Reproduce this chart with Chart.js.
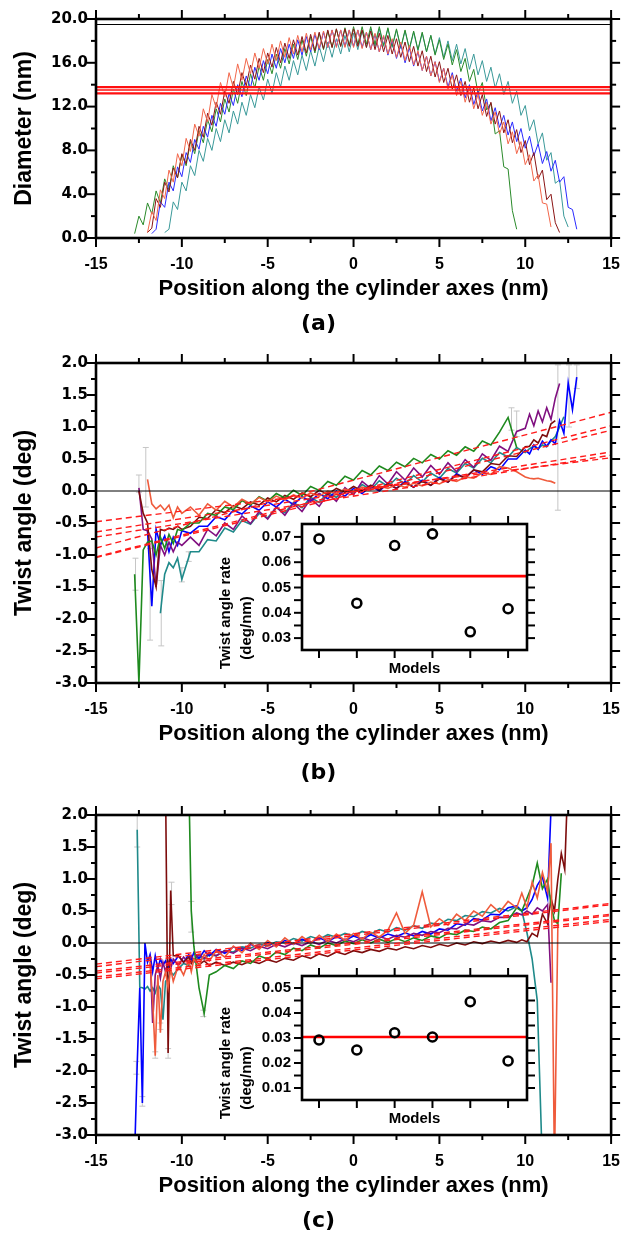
<!DOCTYPE html>
<html lang="en">
<head>
  <meta charset="UTF-8" />
  <title>Diameter and twist angle along the cylinder axes</title>
  <script src="https://cdn.jsdelivr.net/npm/chart.js"></script>
  <style>
    body { margin: 0; background: #fff; }
    .page { position: relative; width: 637px; height: 1234px; overflow: hidden; background: #fff; }
    .box { position: absolute; }
    .panel-label {
      position: absolute; left: 0; width: 637px; text-align: center;
      font: bold 22px "DejaVu Sans", sans-serif; line-height: 26px; color: #000;
    }
  </style>
</head>
<body>
<div class="page">
  <div class="box" style="left:0;top:0;width:637px;height:345px"><canvas id="chartA"></canvas></div>
  <div class="panel-label" style="top:310px">(a)</div>

  <div class="box" style="left:0;top:345px;width:637px;height:445px"><canvas id="chartB"></canvas></div>
  <div class="box" style="left:200px;top:500px;width:340px;height:180px"><canvas id="insetB"></canvas></div>
  <div class="panel-label" style="top:759px">(b)</div>

  <div class="box" style="left:0;top:790px;width:637px;height:444px"><canvas id="chartC"></canvas></div>
  <div class="box" style="left:200px;top:952px;width:340px;height:178px"><canvas id="insetC"></canvas></div>
  <div class="panel-label" style="top:1207px">(c)</div>
</div>

<script>
  // ---- (a) diameter, sampled every 0.25 nm ----
  const posA = [-13,-12.75,-12.5,-12.25,-12,-11.75,-11.5,-11.25,-11,-10.75,-10.5,-10.25,-10,-9.75,-9.5,-9.25,-9,-8.75,-8.5,-8.25,-8,-7.75,-7.5,-7.25,-7,-6.75,-6.5,-6.25,-6,-5.75,-5.5,-5.25,-5,-4.75,-4.5,-4.25,-4,-3.75,-3.5,-3.25,-3,-2.75,-2.5,-2.25,-2,-1.75,-1.5,-1.25,-1,-0.75,-0.5,-0.25,0,0.25,0.5,0.75,1,1.25,1.5,1.75,2,2.25,2.5,2.75,3,3.25,3.5,3.75,4,4.25,4.5,4.75,5,5.25,5.5,5.75,6,6.25,6.5,6.75,7,7.25,7.5,7.75,8,8.25,8.5,8.75,9,9.25,9.5,9.75,10,10.25,10.5,10.75,11,11.25,11.5,11.75,12,12.25,12.5,12.75,13];
  const diaGreen  = [null,0.4,2.0,1.2,3.2,2.2,4.3,3.2,5.4,4.4,6.6,5.5,7.6,6.6,8.8,7.7,9.8,8.7,10.8,9.7,11.8,10.6,12.7,11.5,13.6,12.3,14.3,13.0,15.0,13.7,15.7,14.4,16.3,15.0,16.8,15.5,17.3,15.9,17.7,16.3,18.1,16.6,18.4,16.9,18.7,17.2,18.9,17.4,19.1,17.5,19.2,17.6,19.3,17.7,19.3,17.7,19.3,17.7,19.3,17.6,19.2,17.5,19.1,17.4,19.0,17.3,18.9,17.2,18.8,17.0,18.5,16.7,18.1,16.3,17.7,15.8,17.2,15.2,16.4,14.3,15.4,13.2,14.2,11.7,12.3,9.5,9.8,6.5,6.3,2.5,0.8,null,null,null,null,null,null,null,null,null,null,null,null,null,null];
  const diaBlue   = [null,null,null,null,null,0.4,0.8,3.3,2.8,5.1,4.3,6.5,5.6,7.8,6.9,9.0,8.1,10.2,9.2,11.2,10.2,12.3,11.3,13.2,12.1,14.0,12.9,14.8,13.7,15.6,14.4,16.2,15.0,16.8,15.5,17.3,16.0,17.7,16.4,18.1,16.7,18.4,17.0,18.6,17.2,18.8,17.4,19.0,17.5,19.0,17.5,19.0,17.5,19.0,17.4,18.8,17.2,18.6,17.0,18.4,16.7,18.1,16.4,17.7,16.0,17.4,15.7,17.0,15.3,16.6,14.8,16.1,14.3,15.5,13.8,15.1,13.4,14.6,12.8,14.0,12.2,13.4,11.6,12.7,10.7,11.9,10.1,11.2,9.4,10.6,8.8,10.0,8.2,9.3,7.5,8.6,6.8,7.9,6.1,7.1,5.1,5.6,2.8,2.6,0.8];
  const diaTeal   = [null,null,null,null,null,null,null,null,0.5,0.8,3.3,2.6,5.1,4.3,6.6,5.7,8.0,7.0,9.1,8.0,10.0,8.8,10.8,9.6,11.6,10.4,12.4,11.2,13.1,11.9,13.8,12.6,14.5,13.2,15.1,13.8,15.7,14.4,16.2,14.9,16.7,15.3,17.1,15.7,17.5,16.1,17.9,16.5,18.2,16.8,18.5,17.0,18.7,17.2,18.9,17.4,19.1,17.5,19.1,17.5,19.1,17.4,19.0,17.3,18.9,17.2,18.8,17.1,18.7,17.0,18.5,16.8,18.3,16.5,18.0,16.2,17.7,15.9,17.3,15.4,16.8,14.9,16.2,14.3,15.6,13.7,15.0,13.1,14.3,12.3,13.4,11.2,12.1,9.8,10.8,8.6,9.6,7.1,7.8,5.0,5.3,2.0,1.0,null,null];
  const diaTomato = [null,null,null,null,0.5,2.4,1.6,4.4,3.6,6.2,5.1,7.7,6.6,9.1,7.9,10.4,9.3,11.8,10.6,13.1,11.9,14.2,12.9,15.1,13.7,15.9,14.4,16.4,15.0,16.9,15.5,17.3,15.9,17.7,16.2,18.0,16.5,18.3,16.8,18.5,17.0,18.7,17.2,18.8,17.3,18.9,17.4,19.0,17.4,19.0,17.4,19.0,17.4,19.0,17.3,18.8,17.2,18.7,17.0,18.5,16.8,18.2,16.5,17.9,16.2,17.6,15.8,17.1,15.3,16.6,14.8,16.1,14.2,15.5,13.6,14.9,13.0,14.3,12.4,13.7,11.8,13.1,11.2,12.4,10.4,11.5,9.5,10.6,8.6,9.7,7.7,8.8,6.7,7.6,5.2,5.8,3.2,3.1,1.0,null,null,null,null,null,null];
  const diaMaroon = [null,null,null,null,0.5,0.9,3.6,2.8,5.1,4.2,6.4,5.5,7.7,6.8,9.0,8.0,10.2,9.2,11.4,10.3,12.4,11.3,13.4,12.3,14.3,13.1,15.1,13.9,15.8,14.5,16.4,15.1,16.9,15.6,17.4,16.0,17.8,16.4,18.1,16.7,18.4,16.9,18.6,17.1,18.8,17.3,19.0,17.4,19.1,17.5,19.1,17.5,19.1,17.5,19.0,17.4,18.9,17.2,18.7,17.0,18.5,16.8,18.2,16.5,17.9,16.1,17.5,15.7,17.1,15.2,16.6,14.7,16.1,14.2,15.5,13.6,14.9,13.0,14.3,12.4,13.7,11.8,13.1,11.1,12.4,10.4,11.6,9.6,10.8,8.7,9.9,7.8,8.9,6.7,7.8,5.4,6.2,3.5,4.0,1.4,0.5,null,null,null,null];
  const diaRedLevels = [13.82, 13.75, 13.52, 13.24, 13.17];
  const diaBlackLevel = 19.5;

  // ---- (b) twist angle ----
  const posB = [-12.75,-12.5,-12.25,-12,-11.75,-11.5,-11.25,-11,-10.75,-10.5,-10.25,-10,-9.5,-9,-8.5,-8,-7.5,-7,-6.5,-6,-5.5,-5,-4.5,-4,-3.5,-3,-2.5,-2,-1.5,-1,-0.5,0,0.5,1,1.5,2,2.5,3,3.5,4,4.5,5,5.5,6,6.5,7,7.5,8,8.5,9,9.5,10,10.25,10.5,10.75,11,11.25,11.5,11.75,12,12.25,12.5,12.75,13];
  const twBGreen  = [-1.3,-3.0,-0.92,-0.8,-0.78,-1.0,-0.72,-0.9,-0.68,-0.82,-0.6,-0.62,-0.5,-0.5,-0.35,-0.38,-0.25,-0.29,-0.15,-0.22,-0.09,-0.16,-0.04,-0.11,0.01,-0.07,0.07,0.01,0.15,0.09,0.23,0.17,0.32,0.25,0.39,0.32,0.45,0.38,0.51,0.44,0.57,0.5,0.63,0.56,0.69,0.62,0.78,0.72,0.92,1.15,0.68,null,null,null,null,null,null,null,null,null,null,null,null,null];
  const twBPurple = [null,0.05,-0.6,-0.62,-0.75,-1.5,-0.85,-1.0,-0.8,-0.95,-0.8,-0.85,-0.72,-0.85,-0.6,-0.7,-0.5,-0.6,-0.39,-0.51,-0.32,-0.44,-0.25,-0.38,-0.19,-0.32,-0.12,-0.24,-0.04,-0.16,0.05,-0.06,0.15,0.04,0.24,0.11,0.3,0.17,0.36,0.22,0.4,0.26,0.44,0.3,0.49,0.37,0.58,0.48,0.7,0.62,0.93,0.98,1.2,1.02,1.25,1.08,1.3,1.12,1.45,1.68,null,null,null,null];
  const twBBlue   = [null,null,null,-0.62,-1.8,-0.6,-0.85,-0.7,-0.95,-0.72,-0.85,-0.62,-0.66,-0.55,-0.55,-0.4,-0.45,-0.3,-0.36,-0.23,-0.3,-0.17,-0.25,-0.13,-0.21,-0.09,-0.16,-0.04,-0.12,0.0,-0.08,0.04,-0.04,0.08,0.0,0.12,0.04,0.15,0.06,0.17,0.09,0.21,0.14,0.27,0.2,0.33,0.26,0.38,0.33,0.5,0.5,0.64,0.58,0.72,0.65,0.78,0.7,0.8,0.74,1.1,0.9,1.69,1.27,1.78];
  const twBTeal   = [null,null,null,null,null,null,-1.91,-1.3,-1.12,-1.2,-1.05,-1.38,-0.95,-0.95,-0.76,-0.78,-0.58,-0.64,-0.46,-0.52,-0.35,-0.42,-0.26,-0.34,-0.18,-0.26,-0.1,-0.18,-0.02,-0.1,0.04,-0.04,0.1,0.02,0.16,0.07,0.2,0.11,0.24,0.14,0.28,0.2,0.35,0.28,0.43,0.36,0.51,0.44,0.6,0.53,0.68,0.6,0.66,0.7,0.66,0.72,0.69,0.78,0.85,1.0,1.16,null,null,null];
  const twBMaroon = [null,0.0,-0.35,-0.5,-1.23,-1.5,-0.6,-0.62,-0.58,-0.6,-0.55,-0.6,-0.55,-0.41,-0.43,-0.29,-0.34,-0.23,-0.28,-0.17,-0.22,-0.11,-0.17,-0.07,-0.13,-0.03,-0.09,0.01,-0.05,0.04,-0.02,0.07,0.0,0.09,0.02,0.11,0.04,0.13,0.06,0.15,0.09,0.19,0.14,0.25,0.21,0.33,0.3,0.43,0.41,0.55,0.54,0.69,0.7,0.8,0.75,0.88,0.85,1.05,1.1,null,null,null,null,null];
  const twBTomato = [null,null,null,0.18,-0.2,-0.28,-0.22,-0.3,-0.22,-0.42,-0.25,-0.35,-0.25,-0.38,-0.2,-0.3,-0.16,-0.25,-0.13,-0.2,-0.1,-0.17,-0.08,-0.14,-0.06,-0.11,-0.03,-0.08,0.0,-0.04,0.03,-0.01,0.06,0.02,0.08,0.04,0.1,0.06,0.12,0.08,0.14,0.11,0.18,0.15,0.22,0.2,0.28,0.26,0.38,0.36,0.3,0.22,0.2,0.19,0.2,0.18,0.16,0.15,0.12,null,null,null,null,null];
  const fitX = [-15, 15];
  const fitBLeft  = [-0.89, -1.03, -1.04, -0.48, -0.64, -0.72];
  const fitBRight = [1.23, 1.02, 0.95, 0.52, 0.61, 0.56];
  const errBx  = [-12.7, -12.5, -12.1, -11.85, -11.2, -10.0, -9.6, 9.2, 9.5, 11.9, 12.55, 13.0];
  const errBlo = [-1.55, -0.02, -0.25, -2.33, -2.42, -1.42, -1.1, 0.95, 0.85, -0.3, 1.0, 1.6];
  const errBhi = [-1.05, 0.25, 0.68, -0.9, -1.4, -1.2, -0.95, 1.3, 1.25, 1.97, 1.97, 1.97];

  // ---- (c) twist angle ----
  const posC = [-12.75,-12.6,-12.45,-12.3,-12.15,-12,-11.85,-11.7,-11.55,-11.4,-11.25,-11.1,-10.95,-10.8,-10.65,-10.5,-10.2,-9.9,-9.6,-9.45,-9.3,-9,-8.7,-8.4,-8,-7.5,-7,-6.5,-6,-5.5,-5,-4.5,-4,-3.5,-3,-2.5,-2,-1.5,-1,-0.5,0,0.5,1,1.5,2,2.5,3,3.5,4,4.5,5,5.5,6,6.5,7,7.5,8,8.5,9,9.5,9.8,10.1,10.4,10.7,11,11.3,11.5,11.7,11.9,12.1,12.3,12.45];
  const twCTeal   = [null,1.77,-0.69,-0.7,-0.72,-0.68,-0.75,-0.7,-0.78,-0.65,-0.72,-1.2,-0.6,-0.55,-0.45,-0.5,-0.4,-0.32,-0.35,-0.25,-0.3,-0.22,-0.25,-0.18,-0.2,-0.12,-0.14,-0.06,-0.08,-0.02,-0.04,0.02,0.0,0.07,0.03,0.1,0.06,0.13,0.09,0.15,0.11,0.18,0.14,0.21,0.17,0.24,0.2,0.27,0.23,0.31,0.29,0.37,0.35,0.43,0.41,0.49,0.47,0.54,0.5,0.57,0.5,0.16,-0.25,-0.9,-3.5,null,null,null,null,null,null,null];
  const twCBlue   = [-3.3,-1.9,-0.7,-2.5,0.0,-0.3,-0.18,-0.45,-0.2,-0.4,-0.25,-0.35,-0.28,-0.38,-0.25,-0.32,-0.2,-0.3,-0.18,-0.26,-0.15,-0.24,-0.12,-0.2,-0.1,-0.16,-0.06,-0.12,-0.02,-0.08,0.01,-0.05,0.04,-0.02,0.06,0.0,0.08,0.02,0.1,0.04,0.11,0.06,0.13,0.08,0.14,0.1,0.16,0.11,0.18,0.14,0.22,0.2,0.3,0.28,0.38,0.36,0.45,0.44,0.55,0.58,0.5,0.55,0.68,0.9,1.03,0.7,2.1,null,null,null,null,null];
  const twCPurple = [null,null,null,null,null,null,-0.19,-1.25,-0.5,-0.35,-0.55,-0.3,-0.45,-0.28,-0.4,-0.25,-0.35,-0.22,-0.3,-0.2,-0.27,-0.18,-0.24,-0.15,-0.2,-0.12,-0.16,-0.08,-0.12,-0.05,-0.09,-0.02,-0.06,0.0,-0.04,0.02,-0.02,0.04,0.0,0.06,0.02,0.08,0.04,0.1,0.06,0.12,0.09,0.15,0.12,0.18,0.16,0.23,0.22,0.3,0.28,0.35,0.33,0.4,0.4,0.47,0.44,0.5,0.45,0.55,0.5,0.6,-0.62,null,null,null,null,null];
  const twCTomato = [null,null,null,null,null,null,-0.3,-0.9,-1.76,-0.5,-1.4,-0.6,-0.45,-0.7,-0.4,-0.6,-0.35,-0.5,-0.28,-0.45,-0.25,-0.35,-0.18,-0.28,-0.12,-0.22,-0.05,-0.15,0.0,-0.1,0.04,-0.06,0.08,-0.02,0.1,0.0,0.12,0.02,0.14,0.04,0.15,0.06,0.17,0.09,0.2,0.47,0.15,0.28,0.8,0.25,0.38,0.28,0.45,0.35,0.5,0.42,0.6,0.48,0.65,0.55,0.78,0.55,0.95,0.7,1.1,0.8,1.56,-3.5,0.3,null,null,null];
  const twCMaroon = [null,null,null,null,null,null,null,null,null,null,null,null,2.5,-1.72,0.82,-0.2,-0.2,-0.3,-0.22,-0.32,-0.25,-0.34,-0.28,-0.35,-0.3,-0.35,-0.3,-0.34,-0.28,-0.32,-0.26,-0.3,-0.24,-0.27,-0.2,-0.24,-0.17,-0.21,-0.14,-0.18,-0.12,-0.15,-0.1,-0.13,-0.08,-0.11,-0.06,-0.09,-0.04,-0.07,-0.02,-0.05,0.0,-0.03,0.02,-0.01,0.03,0.0,0.04,0.01,0.05,0.02,0.15,0.1,0.45,0.3,0.7,0.5,1.0,1.4,1.15,2.3];
  const twCGreen  = [null,null,null,null,null,null,null,null,null,null,null,null,null,null,null,null,null,null,2.6,0.5,-0.05,-0.7,-1.1,-0.5,-0.45,-0.35,-0.4,-0.28,-0.32,-0.2,-0.25,-0.14,-0.18,-0.08,-0.12,-0.03,-0.08,0.0,-0.04,0.03,-0.01,0.05,0.0,0.06,0.01,0.07,0.02,0.08,0.04,0.11,0.08,0.15,0.13,0.2,0.18,0.25,0.22,0.32,0.35,0.55,0.5,0.7,0.9,1.25,0.85,1.0,0.6,0.35,0.3,1.09,null,null];
  const fitCLeft  = [-0.33, -0.37, -0.44, -0.47, -0.53, -0.56];
  const fitCRight = [0.62, 0.60, 0.45, 0.43, 0.37, 0.34];
  const errCx  = [-12.6, -12.65, -12.3, -11.55, -11.25, -10.8, -10.6, -9.45, -8.75];
  const errClo = [1.5, -2.05, -2.55, -1.8, -1.35, -1.8, 0.6, 0.17, -1.15];
  const errChi = [2.0, -1.85, -2.4, -1.7, -1.25, -1.65, 0.95, 0.65, -1.05];

  // ---- insets: twist angle rate per model ----
  const models = [1, 2, 3, 4, 5, 6];
  const rateB = [0.0692, 0.0438, 0.0666, 0.0712, 0.0325, 0.0416];
  const rateBMean = 0.0545;
  const rateC = [0.0292, 0.0252, 0.0321, 0.0304, 0.0445, 0.0208];
  const rateCMean = 0.0304;

  const SANS = '"Liberation Sans", Arial, sans-serif';
  const XTICK_FONT = { family: SANS, size: 16, weight: 'bold' };
  const YTICK_FONT = { family: '"DejaVu Sans", sans-serif', size: 15, weight: 'bold' };
  const TITLE_FONT = { family: SANS, size: 23, weight: 'bold' };
  const XTITLE_FONT = { family: SANS, size: 22, weight: 'bold' };
  const INSET_FONT = { family: SANS, size: 15, weight: 'bold' };

  const pts = (xs, ys) => xs.map((x, i) => ({ x: x, y: ys[i] })).filter(p => p.y !== null);
  const curve = (xs, ys, color, w) => ({ data: pts(xs, ys), borderColor: color, borderWidth: w, pointRadius: 0, fill: false, tension: 0 });
  const level = (v, color, w) => ({ data: [{ x: fitX[0], y: v }, { x: fitX[1], y: v }], borderColor: color, borderWidth: w, pointRadius: 0 });
  const fits = (left, right) => left.map((v, i) => ({
    data: [{ x: fitX[0], y: v }, { x: fitX[1], y: right[i] }],
    borderColor: '#ff1a1a', borderWidth: 1.4, borderDash: [6, 4], pointRadius: 0
  }));

  // box frame with outward major/minor ticks on all four sides
  const framePlugin = {
    id: 'frame',
    beforeDatasetsDraw(chart, args, opts) {
      if (!opts.fill) return;
      const a = chart.chartArea;
      chart.ctx.save();
      chart.ctx.fillStyle = opts.fill;
      chart.ctx.fillRect(a.left, a.top, a.right - a.left, a.bottom - a.top);
      chart.ctx.restore();
    },
    afterDatasetsDraw(chart, args, opts) {
      const { ctx, chartArea: a } = chart;
      const x = chart.scales.x, y = chart.scales.y;
      const seg = (x1, y1, x2, y2) => { ctx.beginPath(); ctx.moveTo(x1, y1); ctx.lineTo(x2, y2); ctx.stroke(); };
      const mids = v => v.slice(1).map((t, i) => (t + v[i]) / 2);
      const xt = x.ticks.map(t => t.value), yt = y.ticks.map(t => t.value);
      const xTicks = (vals, len) => vals.forEach(v => {
        const p = x.getPixelForValue(v);
        seg(p, a.bottom, p, a.bottom + len); seg(p, a.top, p, a.top - len);
      });
      const yTicks = (vals, len) => vals.forEach(v => {
        const p = y.getPixelForValue(v);
        seg(a.left, p, a.left - len, p); seg(a.right, p, a.right + len, p);
      });
      ctx.save();
      ctx.strokeStyle = '#000';
      ctx.lineWidth = opts.tickWidth;
      xTicks(xt, opts.major);
      yTicks(yt, opts.major);
      if (opts.xMinor) xTicks(mids(xt), opts.minor);
      yTicks(mids(yt), opts.minor);
      ctx.lineWidth = opts.width;
      ctx.strokeRect(a.left, a.top, a.right - a.left, a.bottom - a.top);
      ctx.restore();
    }
  };

  const errorBarPlugin = {
    id: 'errorBars',
    beforeDatasetsDraw(chart, args, opts) {
      if (!opts.x) return;
      const { ctx, chartArea: a } = chart;
      const x = chart.scales.x, y = chart.scales.y;
      ctx.save();
      ctx.beginPath();
      ctx.rect(a.left, a.top, a.right - a.left, a.bottom - a.top);
      ctx.clip();
      ctx.strokeStyle = '#c6c6c6';
      ctx.lineWidth = 1;
      opts.x.forEach((v, i) => {
        const px = x.getPixelForValue(v);
        const lo = y.getPixelForValue(opts.lo[i]), hi = y.getPixelForValue(opts.hi[i]);
        ctx.beginPath();
        ctx.moveTo(px, lo); ctx.lineTo(px, hi);
        ctx.moveTo(px - 3, lo); ctx.lineTo(px + 3, lo);
        ctx.moveTo(px - 3, hi); ctx.lineTo(px + 3, hi);
        ctx.stroke();
      });
      ctx.restore();
    }
  };

  // two-line rotated y title of the insets, sitting a bit below the plot middle
  const sideTitlePlugin = {
    id: 'sideTitle',
    afterDraw(chart, args, opts) {
      if (!opts.lines) return;
      const { ctx, chartArea: a } = chart;
      ctx.save();
      ctx.font = 'bold 15px ' + SANS;
      ctx.fillStyle = '#000';
      ctx.textAlign = 'center';
      ctx.textBaseline = 'middle';
      opts.lines.forEach((line, i) => {
        ctx.save();
        ctx.translate(opts.x[i], a.bottom - opts.up[i]);
        ctx.rotate(-Math.PI / 2);
        ctx.fillText(line, 0, 0);
        ctx.restore();
      });
      ctx.restore();
    }
  };

  function mainOptions(o) {
    return {
      responsive: true,
      maintainAspectRatio: false,
      animation: false,
      layout: { padding: { top: o.padTop, right: 16, bottom: o.padBottom, left: 0 } },
      plugins: {
        legend: { display: false },
        tooltip: { enabled: false },
        frame: { major: 9, minor: 5, xMinor: true, width: 2.6, tickWidth: 2 },
        errorBars: o.err || {}
      },
      scales: {
        x: {
          type: 'linear', min: -15, max: 15,
          grid: { display: false, drawTicks: false }, border: { display: false },
          ticks: { stepSize: 5, font: XTICK_FONT, color: '#000', padding: 17, maxRotation: 0 },
          title: { display: true, text: 'Position along the cylinder axes (nm)', font: XTITLE_FONT, color: '#000', padding: { top: 0, bottom: 0 } },
          afterFit: s => { s.height = 64; }
        },
        y: {
          type: 'linear', min: o.yMin, max: o.yMax,
          grid: { display: false, drawTicks: false }, border: { display: false },
          ticks: { stepSize: o.yStep, font: YTICK_FONT, color: '#000', padding: 8, callback: v => v.toFixed(1) },
          title: { display: true, text: o.yTitle, font: TITLE_FONT, color: '#000', padding: { top: 11, bottom: 0 } },
          afterFit: s => { s.width = 96; }
        }
      }
    };
  }

  function insetOptions(yMin, yMax) {
    return {
      responsive: true,
      maintainAspectRatio: false,
      animation: false,
      layout: { padding: { top: 24, right: 13, bottom: 2, left: 0 } },
      plugins: {
        legend: { display: false },
        tooltip: { enabled: false },
        frame: { major: 8, minor: 8, xMinor: false, width: 2.6, tickWidth: 2, fill: '#fff' },
        sideTitle: { lines: ['Twist angle rate', '(deg/nm)'], x: [26, 47], up: [37, 22] }
      },
      scales: {
        x: {
          type: 'linear', min: 0.55, max: 6.5,
          grid: { display: false, drawTicks: false }, border: { display: false },
          ticks: { stepSize: 1, display: false, includeBounds: false },
          title: { display: true, text: 'Models', font: INSET_FONT, color: '#000', padding: { top: 0, bottom: 0 } },
          afterFit: s => { s.height = 28; }
        },
        y: {
          type: 'linear', min: yMin, max: yMax,
          grid: { display: false, drawTicks: false }, border: { display: false },
          ticks: { stepSize: 0.01, includeBounds: false, font: INSET_FONT, color: '#000', padding: 11, callback: v => v.toFixed(2) },
          afterFit: s => { s.width = 102; }
        }
      }
    };
  }

  const plugins = [framePlugin, errorBarPlugin, sideTitlePlugin];

  new Chart(document.getElementById('chartA'), {
    type: 'line',
    data: {
      datasets: [
        ...diaRedLevels.map(v => level(v, '#ff1010', 1.5)),
        level(diaBlackLevel, '#000', 1.2),
        curve(posA, diaTomato, '#f2664a', 1),
        curve(posA, diaMaroon, '#8a1414', 1),
        curve(posA, diaBlue, '#2a2aff', 1),
        curve(posA, diaGreen, '#2a8a2a', 1),
        curve(posA, diaTeal, '#3a9999', 1)
      ]
    },
    options: mainOptions({ padTop: 19, padBottom: 43, yMin: 0, yMax: 20, yStep: 4, yTitle: 'Diameter (nm)' }),
    plugins: plugins
  });

  new Chart(document.getElementById('chartB'), {
    type: 'line',
    data: {
      datasets: [
        ...fits(fitBLeft, fitBRight),
        level(0, '#000', 1),
        curve(posB, twBTomato, '#ef5b3c', 1.6),
        curve(posB, twBGreen, '#1e8a1e', 1.6),
        curve(posB, twBMaroon, '#7d0c0c', 1.6),
        curve(posB, twBPurple, '#801080', 1.6),
        curve(posB, twBBlue, '#0000ff', 1.6),
        curve(posB, twBTeal, '#1f8a8a', 1.6)
      ]
    },
    options: mainOptions({ padTop: 18, padBottom: 43, yMin: -3, yMax: 2, yStep: 0.5, yTitle: 'Twist angle (deg)',
      err: { x: errBx, lo: errBlo, hi: errBhi } }),
    plugins: plugins
  });

  new Chart(document.getElementById('chartC'), {
    type: 'line',
    data: {
      datasets: [
        ...fits(fitCLeft, fitCRight),
        level(0, '#000', 1),
        curve(posC, twCTomato, '#ef5b3c', 1.6),
        curve(posC, twCGreen, '#1e8a1e', 1.6),
        curve(posC, twCMaroon, '#7d0c0c', 1.6),
        curve(posC, twCPurple, '#801080', 1.6),
        curve(posC, twCBlue, '#0000ff', 1.6),
        curve(posC, twCTeal, '#1f8a8a', 1.6)
      ]
    },
    options: mainOptions({ padTop: 25, padBottom: 35, yMin: -3, yMax: 2, yStep: 0.5, yTitle: 'Twist angle (deg)',
      err: { x: errCx, lo: errClo, hi: errChi } }),
    plugins: plugins
  });

  function insetData(rates, mean) {
    return {
      datasets: [
        { data: pts(models, rates), showLine: false, pointRadius: 4.5, pointBorderWidth: 2.6,
          pointBorderColor: '#000', pointBackgroundColor: 'rgba(255,255,255,0)', borderColor: '#000' },
        { data: [{ x: 0.55, y: mean }, { x: 6.5, y: mean }], borderColor: '#ff0000', borderWidth: 2.6, pointRadius: 0 }
      ]
    };
  }

  new Chart(document.getElementById('insetB'), {
    type: 'line',
    data: insetData(rateB, rateBMean),
    options: insetOptions(0.0253, 0.0751),
    plugins: plugins
  });

  new Chart(document.getElementById('insetC'), {
    type: 'line',
    data: insetData(rateC, rateCMean),
    options: insetOptions(0.0052, 0.0548),
    plugins: plugins
  });
</script>
</body>
</html>
